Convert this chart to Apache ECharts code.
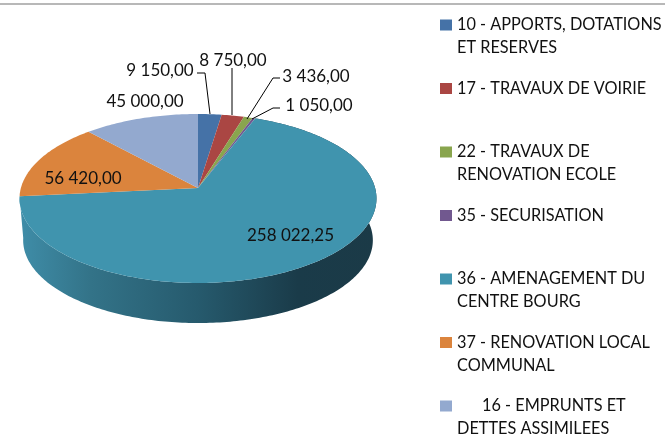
<!DOCTYPE html>
<html><head><meta charset="utf-8">
<style>html,body{margin:0;padding:0;background:#fff}#c{width:665px;height:441px}</style>
<script src="https://cdn.jsdelivr.net/npm/echarts@6/dist/echarts.min.js"></script>
</head><body><div id="c"></div>
<script>
const categories = ["10 - APPORTS, DOTATIONS\nET RESERVES","17 - TRAVAUX DE VOIRIE","22 - TRAVAUX DE\nRENOVATION ECOLE","35 - SECURISATION","36 - AMENAGEMENT DU\nCENTRE BOURG","37 - RENOVATION LOCAL\nCOMMUNAL","      16 - EMPRUNTS ET\nDETTES ASSIMILEES"];
const values = [9150, 8750, 3436, 1050, 258022.25, 56420, 45000];
const valueLabels = ["9 150,00","8 750,00","3 436,00","1 050,00","258 022,25","56 420,00","45 000,00"];
const colors = ["#4572A7","#AA4643","#89A54E","#71588F","#4094AE","#DB843D","#93A9CF"];

// Label anchors and leader lines (layout, not data)
const labelAt = [[160,70.5],[233,60.5],[316,77],[319,105.5],[290.5,235.5],[83,178.5],[145,101.5]];
const leaders = [
  [[197,73],[205,73],[210,114]],
  [[232,68],[232,115]],
  [[280,78],[273,78],[247,119]],
  [[280,108],[273,108],[252,119]],
  null,null,null
];
const total = values.reduce((a,b)=>a+b,0);
const starts = values.map((_,i)=>values.slice(0,i).reduce((a,b)=>a+b,0));
const FONT = 'Lato';
const FRONT = values.indexOf(Math.max(...values)); // the only slice whose side wall shows

// perspective disc projection
const K = 0.124;
function proj(frac, lvl){
  const t = frac*2*Math.PI, X = Math.sin(t), Y = Math.cos(t), d = 1+K*Y;
  const a = lvl ? 173.5 : 177.1, b = lvl ? 81.5 : 83.2, y0 = lvl ? 230 : 188;
  return [198 + a*X/d, y0 - b*Y/d];
}
function arc(f0,f1,lvl){
  const n = Math.max(2, Math.ceil((f1-f0)*360)), pts=[];
  for(let i=0;i<=n;i++) pts.push(proj(f0+(f1-f0)*i/n,lvl));
  return pts;
}
const wallGrad = {type:'linear',x:0,y:0,x2:1,y2:0,colorStops:[
  {offset:0,color:'#3F8DA8'},{offset:0.2,color:'#337388'},{offset:0.5,color:'#265A6D'},
  {offset:0.78,color:'#1A3B49'},{offset:1,color:'#1B3A47'}]};

const walls = [{
  type:'custom', coordinateSystem:'none', silent:true, z:1, name:'wall',
  data:[[values[FRONT],starts[FRONT]]],
  renderItem:(p,api)=>{
    const f0=api.value(1)/total, f1=f0+api.value(0)/total;
    const pts=arc(f0,f1,0).concat(arc(f0,f1,1).reverse());
    return {type:'polygon',shape:{points:pts},style:{fill:wallGrad}};
  }
}];
const tops = values.map((v,i)=>({
  type:'custom', coordinateSystem:'none', silent:true, z:2, name:categories[i],
  itemStyle:{color:colors[i]},
  data:[[v,starts[i]]],
  renderItem:(p,api)=>{
    const f0=api.value(1)/total, f1=f0+api.value(0)/total;
    const pts=[[198,188]].concat(arc(f0,f1,0));
    return {type:'polygon',shape:{points:pts},style:{fill:colors[i]}};
  }
}));
const labels = [{
  type:'custom', coordinateSystem:'none', silent:true, z:3, name:'labels',
  data:values.map((v,i)=>[i]),
  renderItem:(p,api)=>{
    const i=api.value(0), ch=[];
    if(leaders[i]) ch.push({type:'polyline',shape:{points:leaders[i]},style:{stroke:'#000',lineWidth:1,fill:null}});
    ch.push({type:'text',x:labelAt[i][0],y:labelAt[i][1],style:{text:valueLabels[i],fontFamily:FONT,fontSize:17,fill:'#111',align:'center',verticalAlign:'middle'}});
    return {type:'group',children:ch};
  }
}];

const chart = echarts.init(document.getElementById('c'),null,{renderer:'canvas'});
chart.setOption({
  animation:false,
  backgroundColor:'#fff',
  legend:{
    data:categories, orient:'vertical', left:440, top:-9.5, width:225, height:1000, icon:'rect',
    itemWidth:12, itemHeight:11, itemGap:-5.5, selectedMode:false, padding:0,
    formatter:n=>'\n'+n+(n.indexOf('\n')<0?'\n ':''),
    textStyle:{fontFamily:FONT,fontSize:16.3,color:'#111',lineHeight:23}
  },
  graphic:[{type:'line',shape:{x1:0,y1:4,x2:665,y2:4},style:{stroke:'#a0a0a0',lineWidth:1.5}}],
  series:walls.concat(tops,labels)
});
</script></body></html>
